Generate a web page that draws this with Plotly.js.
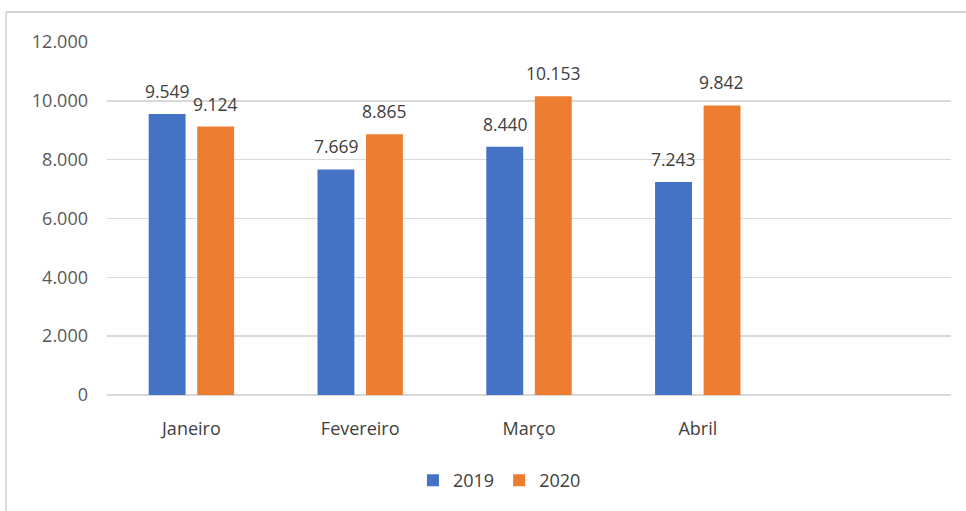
<!DOCTYPE html>
<html>
<head>
<meta charset="utf-8">
<script src="https://cdn.plot.ly/plotly-3.0.1.min.js"></script>
<style>html,body{margin:0;padding:0;background:#fff;}#chart{width:966px;height:511px;}</style>
</head>
<body>
<div id="chart"></div>
<script>
const categories = ["Janeiro", "Fevereiro", "Março", "Abril"];
const values2019 = [9549, 7669, 8440, 7243];
const values2020 = [9124, 8865, 10153, 9842];
const seriesNames = ["2019", "2020"];
const yTicks = [0, 2000, 4000, 6000, 8000, 10000, 12000];

const font = "Open Sans, Liberation Sans, Arial, sans-serif";
const colors = ["#4472C4", "#ED7D31"];
const allValues = [values2019, values2020];

const traces = allValues.map((vals, i) => ({
  type: "bar", name: seriesNames[i], x: categories, y: vals,
  marker: {color: colors[i]}, hoverinfo: "none"
}));

function fmt(v) {
  return String(v).replace(/\B(?=(\d{3})+(?!\d))/g, ".");
}

const annotations = [];
allValues.forEach((vals, i) => {
  vals.forEach((v, j) => {
    annotations.push({
      x: categories[j], y: v, xref: "x", yref: "y",
      text: fmt(v), showarrow: false,
      xanchor: "center", yanchor: "bottom",
      xshift: (i === 0 ? -24 : 24), yshift: 9,
      font: {family: font, size: 17.5, color: "#404040"}
    });
  });
});

const layout = {
  width: 966, height: 511,
  margin: {l: 107, r: 15, t: 42, b: 116},
  paper_bgcolor: "#fff", plot_bgcolor: "#fff",
  separators: ",.",
  barmode: "group", bargap: 0.425, bargroupgap: 0.24,
  showlegend: true,
  legend: {orientation: "h", x: 0.465, xanchor: "center", y: -0.19, yanchor: "top",
           font: {family: font, size: 18, color: "#404040"}, traceorder: "normal",
           itemwidth: 30},
  xaxis: {type: "category", range: [-0.5, 4.5], showgrid: false, zeroline: false,
          showline: false, ticks: "", ticklabelstandoff: 21,
          tickfont: {family: font, size: 18, color: "#404040"}},
  yaxis: {range: [0, 12000], tickvals: yTicks, tickformat: ",.0f",
          showgrid: true, gridcolor: "#d9d9d9", gridwidth: 1.5,
          zeroline: true, zerolinecolor: "#d9d9d9", zerolinewidth: 1.5,
          showline: false, ticks: "", ticklabelstandoff: 18,
          tickfont: {family: font, size: 18, color: "#595959"}},
  annotations: annotations,
  shapes: [
    {type: "line", xref: "paper", yref: "paper", x0: -0.1197, x1: 1.03, y0: 1.085, y1: 1.085,
     line: {color: "#c8c8c8", width: 1.5}},
    {type: "line", xref: "paper", yref: "paper", x0: -0.1197, x1: -0.1197, y0: 1.085, y1: -0.35,
     line: {color: "#d0d0d0", width: 1.5}}
  ]
};
Plotly.newPlot("chart", traces, layout, {displayModeBar: false, staticPlot: true});
</script>
</body>
</html>
